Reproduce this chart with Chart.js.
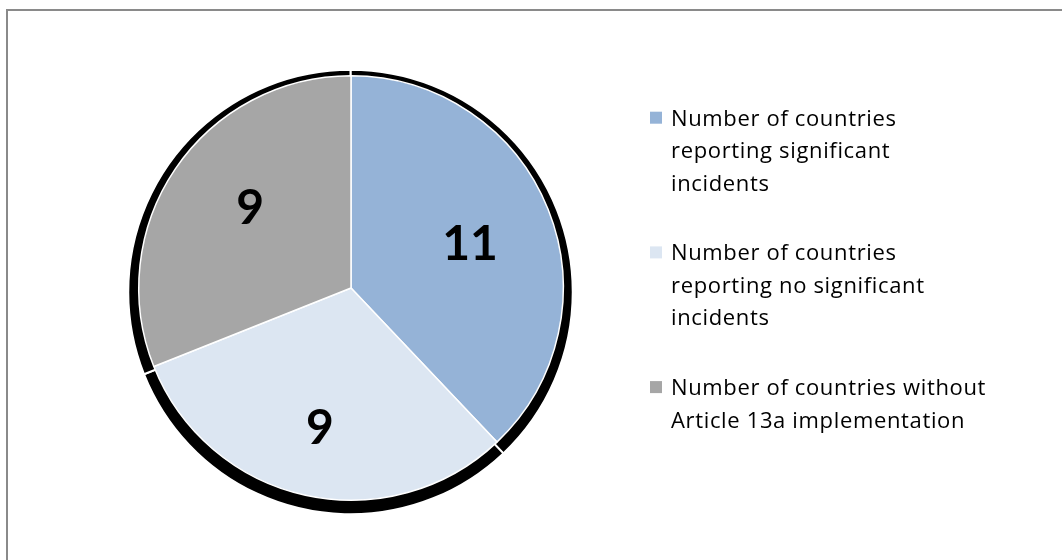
<!DOCTYPE html>
<html>
<head>
<meta charset="utf-8">
<script src="https://cdn.jsdelivr.net/npm/chart.js@4/dist/chart.umd.min.js"></script>
<style>
  html, body { margin: 0; padding: 0; background: #ffffff; }
  body { width: 1062px; height: 560px; position: relative; overflow: hidden; }
  #frame {
    position: absolute; left: 6px; top: 9px; width: 1100px; height: 600px;
    border-left: 2px solid #8a8a8a; border-top: 2px solid #8a8a8a; box-sizing: border-box;
  }
  #wrap { position: absolute; left: 0; top: 0; width: 1062px; height: 560px; }
</style>
</head>
<body>
<div id="frame"></div>
<div id="wrap"><canvas id="chart" width="1062" height="560"></canvas></div>
<script>
// Article 13a incident reporting, by country
const categories = [
  ["Number of countries", "reporting significant", "incidents"],
  ["Number of countries", "reporting no significant", "incidents"],
  ["Number of countries without", "Article 13a implementation"]
];
const countryCounts = [11, 9, 9];
const sliceColors = ["#95B3D7", "#DCE6F2", "#A6A6A6"];

// Where each value label sits: fraction of the radius, and a small turn (radians) past the slice middle
const labelDepth = [0.60, 0.667, 0.61];
const labelTurn = [0.016, 0.005, 0.082];

// Black drop shadow drawn behind every slice, shifted down and slightly larger
const sliceShadow = {
  id: "sliceShadow",
  beforeDatasetsDraw(chart) {
    const ctx = chart.ctx;
    const meta = chart.getDatasetMeta(0);
    ctx.save();
    meta.data.forEach((arc) => {
      const p = arc.getProps(["x", "y", "startAngle", "endAngle", "outerRadius"], true);
      const cx = p.x - 0.5, cy = p.y + 4, r = p.outerRadius + 10;
      ctx.beginPath();
      ctx.moveTo(cx, cy);
      ctx.arc(cx, cy, r, p.startAngle, p.endAngle);
      ctx.closePath();
      ctx.fillStyle = "#000000";
      ctx.fill();
      ctx.lineWidth = 2;
      ctx.strokeStyle = "#ffffff";
      ctx.stroke();
    });
    ctx.restore();
  }
};

// Bold value labels inside each slice
const sliceValues = {
  id: "sliceValues",
  afterDatasetsDraw(chart) {
    const ctx = chart.ctx;
    const meta = chart.getDatasetMeta(0);
    const values = chart.data.datasets[0].data;
    ctx.save();
    ctx.font = "bold 48px Lato";
    ctx.fillStyle = "#000000";
    ctx.textAlign = "center";
    ctx.textBaseline = "middle";
    meta.data.forEach((arc, i) => {
      const p = arc.getProps(["x", "y", "startAngle", "endAngle", "outerRadius"], true);
      const mid = (p.startAngle + p.endAngle) / 2 + labelTurn[i];
      const rr = p.outerRadius * labelDepth[i];
      ctx.fillText(String(values[i]), p.x + Math.cos(mid) * rr, p.y + Math.sin(mid) * rr + 2);
    });
    ctx.restore();
  }
};

// Legend on the right with wrapped, multi-line entries
const sideLegend = {
  id: "sideLegend",
  afterDraw(chart) {
    const ctx = chart.ctx;
    const x0 = 650, box = 12, textX = 671;
    const lineH = 32.5, itemGap = 37.2;
    let baseline = 125.7;
    ctx.save();
    ctx.font = "22px 'Open Sans'";
    ctx.letterSpacing = "0.65px";
    ctx.textAlign = "left";
    ctx.textBaseline = "alphabetic";
    chart.data.labels.forEach((lines, i) => {
      ctx.fillStyle = chart.data.datasets[0].backgroundColor[i];
      ctx.fillRect(x0, baseline - 14, box, box);
      ctx.fillStyle = "#000000";
      lines.forEach((line, j) => {
        ctx.fillText(line, textX, baseline + j * lineH);
      });
      baseline += lines.length * lineH + itemGap;
    });
    ctx.restore();
  }
};

new Chart(document.getElementById("chart"), {
  type: "pie",
  data: {
    labels: categories,
    datasets: [{
      data: countryCounts,
      backgroundColor: sliceColors,
      borderColor: "#ffffff",
      borderWidth: 1.5
    }]
  },
  options: {
    responsive: false,
    animation: false,
    layout: { padding: { left: 138, top: 75, right: 498, bottom: 59 } },
    plugins: {
      legend: { display: false },
      tooltip: { enabled: false }
    }
  },
  plugins: [sliceShadow, sliceValues, sideLegend]
});
</script>
</body>
</html>
